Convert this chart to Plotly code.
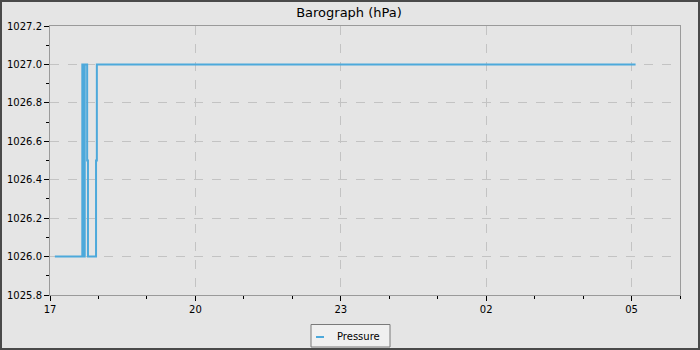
import plotly.graph_objects as go

# Data: pressure readings (step changes), times on a single night
times = [
    "2024-01-16 17:06", "2024-01-16 17:40", "2024-01-16 17:41", "2024-01-16 17:43",
    "2024-01-16 17:46", "2024-01-16 17:47", "2024-01-16 17:57", "2024-01-16 17:58",
    "2024-01-17 05:05",
]
pressure = [1026.0, 1027.0, 1026.0, 1027.0, 1026.5, 1026.0, 1026.5, 1027.0, 1027.0]
y_ticks = [1025.8, 1026.0, 1026.2, 1026.4, 1026.6, 1026.8, 1027.0, 1027.2]
series_name = "Pressure"

BG = "#e5e5e5"
AXIS = "#9a9a9a"
GRID = "#c3c3c3"
LINE = "#4da9db"
FONT = "DejaVu Sans"

fig = go.Figure()
fig.add_trace(go.Scatter(
    x=times, y=pressure, mode="lines", name=series_name,
    line=dict(color=LINE, width=2, shape="hv"), showlegend=False,
))

L, R, T, B = 50, 20, 26, 55
W, H = 700, 350
pw = W - L - R
ph = H - T - B


def px(x):
    return (x - L) / pw


def py(y):
    return (T + ph - y) / ph


fig.update_layout(
    width=W, height=H,
    margin=dict(l=L, r=R, t=T, b=B, autoexpand=False),
    paper_bgcolor=BG, plot_bgcolor=BG,
    font=dict(family=FONT, size=10, color="#000000"),
    title=dict(text="Barograph (hPa)", x=349 / W, xref="container", xanchor="center",
               y=1 - 12.5 / H, yref="container", yanchor="middle",
               font=dict(family=FONT, size=13, color="#000000")),
    xaxis=dict(
        type="date", automargin=False,
        range=["2024-01-16 17:00", "2024-01-17 06:00"],
        tick0="2024-01-16 17:00", dtick=3 * 3600000, tickformat="%H",
        ticks="outside", ticklen=5, tickcolor="#000000", tickwidth=1,
        minor=dict(dtick=3600000, ticks="outside", ticklen=3, tickcolor="#000000", showgrid=False),
        showgrid=True, gridcolor=GRID, griddash="dash", gridwidth=1,
        showline=True, linecolor=AXIS, linewidth=1, mirror=True,
        zeroline=False, tickfont=dict(family=FONT, size=10, color="#000000"),
    ),
    yaxis=dict(
        range=[1025.8, 1027.2], automargin=False,
        tickvals=y_ticks, ticktext=[f"{v:.1f}" for v in y_ticks],
        ticks="outside", ticklen=5, tickcolor="#000000", tickwidth=1,
        minor=dict(dtick=0.1, ticks="outside", ticklen=3, tickcolor="#000000", showgrid=False),
        showgrid=True, gridcolor=GRID, griddash="dash", gridwidth=1,
        showline=True, linecolor=AXIS, linewidth=1, mirror=True,
        zeroline=False, tickfont=dict(family=FONT, size=10, color="#000000"),
    ),
)

# legend box (drawn to match the compact legend of the reference)
fig.add_shape(type="rect", xref="paper", yref="paper",
              x0=px(311), x1=px(390), y0=py(347), y1=py(324.5),
              line=dict(color="#7a7a7a", width=1), fillcolor="#f0f0f0", layer="above")
fig.add_shape(type="line", xref="paper", yref="paper",
              x0=px(316), x1=px(324), y0=py(337), y1=py(337),
              line=dict(color=LINE, width=2), layer="above")
fig.add_annotation(xref="paper", yref="paper", x=px(335), y=py(336),
                   xanchor="left", yanchor="middle", showarrow=False,
                   text=series_name, font=dict(family=FONT, size=10, color="#000000"))

# outer frame around the whole image
fig.add_shape(type="rect", xref="paper", yref="paper",
              x0=(1 - L) / pw, x1=1 + (R - 1) / pw,
              y0=-(B - 1) / ph, y1=1 + (T - 1) / ph,
              line=dict(color="#4a4a4a", width=2), fillcolor="rgba(0,0,0,0)", layer="above")

fig.write_html("out.html")
